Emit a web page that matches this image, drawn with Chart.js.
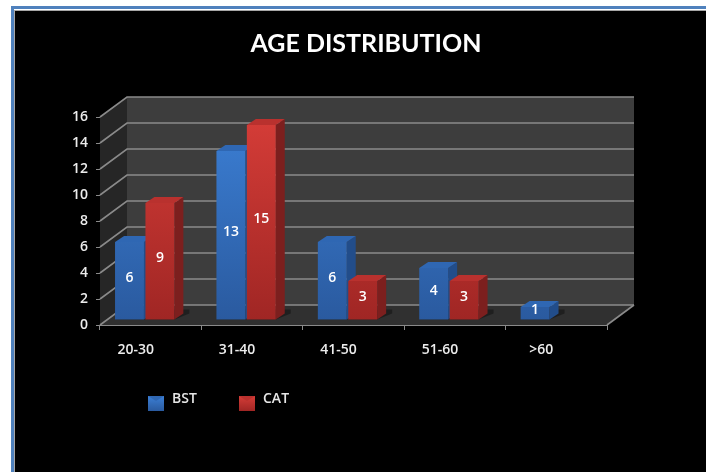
<!DOCTYPE html>
<html>
<head>
<meta charset="utf-8">
<title>Age Distribution</title>
<script src="https://cdn.jsdelivr.net/npm/chart.js@4.4.1/dist/chart.umd.min.js"></script>
<style>
html, body { margin: 0; padding: 0; background: #fff; overflow: hidden; }
#frame { position: absolute; left: 11px; top: 6px; width: 760px; height: 520px; border: 3px solid #4f81bd; }
#inner { position: absolute; left: 0; top: 1px; right: 0; bottom: 0; background: #000;
         border-left: 1px solid #a6a6a6; border-top: 1px solid #a6a6a6; }
#chart { position: absolute; left: 0; top: 0; }
</style>
</head>
<body>
<div id="frame"><div id="inner"></div></div>
<canvas id="chart" width="706" height="472"></canvas>
<script>
// data
const categories = ['20-30', '31-40', '41-50', '51-60', '>60'];
const bstCounts = [6, 13, 6, 4, 1];
const catCounts = [9, 15, 3, 3, null];
const yMax = 16;
const yStep = 2;

// fake 3D: offset of the back wall, depth of each bar, and where the bars sit
const WALL_DX = 27, WALL_DY = -20;
const BAR_DX = 9, BAR_DY = -6;
const SHIFT_X = -6, SHIFT_Y = -5;

const FONT = '"Open Sans", sans-serif';

const palette = [
    { top: '#3c80d6', bottom: '#2a5a9f', side: '#224d8a', cap: '#2f67b3' },  // BST
    { top: '#d63d38', bottom: '#a02624', side: '#7c1f1e', cap: '#b9312e' }   // CAT
];

function frontGradient(i) {
    return function(context) {
        const chart = context.chart;
        const a = chart.chartArea;
        if (!a) return palette[i].top;
        const g = chart.ctx.createLinearGradient(0, a.top, 0, a.bottom);
        g.addColorStop(0, palette[i].top);
        g.addColorStop(1, palette[i].bottom);
        return g;
    };
}

function poly(ctx, pts, fill) {
    ctx.beginPath();
    ctx.moveTo(pts[0][0], pts[0][1]);
    for (let k = 1; k < pts.length; k++) ctx.lineTo(pts[k][0], pts[k][1]);
    ctx.closePath();
    ctx.fillStyle = fill;
    ctx.fill();
}

const pseudo3d = {
    id: 'pseudo3d',
    beforeDatasetsDraw(chart) {
        const ctx = chart.ctx;
        const a = chart.chartArea;
        const y = chart.scales.y;

        ctx.save();
        // floor, left wall, back wall
        poly(ctx, [[a.left, a.bottom], [a.left + WALL_DX, a.bottom + WALL_DY],
                   [a.right + WALL_DX, a.bottom + WALL_DY], [a.right, a.bottom]], '#303030');
        poly(ctx, [[a.left, a.top], [a.left + WALL_DX, a.top + WALL_DY],
                   [a.left + WALL_DX, a.bottom + WALL_DY], [a.left, a.bottom]], '#262626');
        ctx.fillStyle = '#3d3d3d';
        ctx.fillRect(a.left + WALL_DX, a.top + WALL_DY, a.right - a.left, a.bottom - a.top);

        // grid lines on side and back wall
        ctx.strokeStyle = '#8a8a8a';
        ctx.lineWidth = 1.6;
        y.ticks.forEach(t => {
            const py = y.getPixelForValue(t.value);
            ctx.beginPath();
            ctx.moveTo(a.left, py);
            ctx.lineTo(a.left + WALL_DX, py + WALL_DY);
            ctx.lineTo(a.right + WALL_DX, py + WALL_DY);
            ctx.stroke();
        });
        ctx.beginPath();
        ctx.moveTo(a.right, a.bottom);
        ctx.lineTo(a.right + WALL_DX, a.bottom + WALL_DY);
        ctx.stroke();
        ctx.restore();

        // bars are drawn slightly behind the front axis; stays translated until afterDatasetsDraw
        ctx.save();
        ctx.translate(SHIFT_X, SHIFT_Y);

        chart.data.datasets.forEach((ds, i) => {
            const meta = chart.getDatasetMeta(i);
            meta.data.forEach((el, j) => {
                if (ds.data[j] == null) return;
                const x1 = el.x - el.width / 2, x2 = el.x + el.width / 2;
                const top = el.y, base = el.base;
                // soft shadow on the floor
                poly(ctx, [[x2, base], [x2 + BAR_DX + 6, base + BAR_DY], [x2 + BAR_DX + 6, base + BAR_DY - 4],
                           [x1 + BAR_DX, base + BAR_DY - 4], [x1, base]], 'rgba(0,0,0,0.35)');
                poly(ctx, [[x2, top], [x2 + BAR_DX, top + BAR_DY], [x2 + BAR_DX, base + BAR_DY], [x2, base]],
                     palette[i].side);
                poly(ctx, [[x1, top], [x1 + BAR_DX, top + BAR_DY], [x2 + BAR_DX, top + BAR_DY], [x2, top]],
                     palette[i].cap);
            });
        });
    },
    afterDatasetsDraw(chart) {
        const ctx = chart.ctx;
        ctx.font = '600 14px ' + FONT;
        ctx.fillStyle = '#ffffff';
        ctx.textAlign = 'center';
        ctx.textBaseline = 'middle';
        chart.data.datasets.forEach((ds, i) => {
            chart.getDatasetMeta(i).data.forEach((el, j) => {
                const v = ds.data[j];
                if (v == null) return;
                ctx.fillText(String(v), el.x, (el.y + el.base) / 2 - 3);
            });
        });
        ctx.restore();
    },
    afterDraw(chart) {
        const ctx = chart.ctx;
        ctx.save();
        // title
        ctx.font = 'bold 25px Lato, sans-serif';
        ctx.fillStyle = '#ffffff';
        ctx.textAlign = 'center';
        ctx.textBaseline = 'middle';
        ctx.fillText('AGE DISTRIBUTION', 366, 44);

        // legend
        const legendX = [148, 239];
        ctx.font = '600 14px ' + FONT;
        ctx.textAlign = 'left';
        chart.data.datasets.forEach((ds, i) => {
            const lx = legendX[i], ly = 396;
            const g = ctx.createLinearGradient(0, ly, 0, ly + 15);
            g.addColorStop(0, palette[i].top);
            g.addColorStop(1, palette[i].bottom);
            ctx.fillStyle = g;
            ctx.fillRect(lx, ly, 16, 15);
            poly(ctx, [[lx, ly], [lx + 16, ly], [lx + 8, ly + 5]], palette[i].cap);
            ctx.fillStyle = '#e6e6e6';
            ctx.fillText(ds.label, lx + 24, ly + 3);
        });
        ctx.restore();
    }
};

new Chart(document.getElementById('chart'), {
    type: 'bar',
    data: {
        labels: categories,
        datasets: [{
            label: 'BST',
            data: bstCounts,
            backgroundColor: frontGradient(0),
            borderWidth: 0,
            categoryPercentage: 0.6,
            barPercentage: 0.95
        }, {
            label: 'CAT',
            data: catCounts,
            backgroundColor: frontGradient(1),
            borderWidth: 0,
            categoryPercentage: 0.6,
            barPercentage: 0.95
        }]
    },
    options: {
        responsive: false,
        animation: false,
        layout: { padding: { left: 40, right: 99, top: 117, bottom: 117 } },
        plugins: {
            legend: { display: false },
            title: { display: false },
            tooltip: { enabled: false }
        },
        scales: {
            x: {
                afterFit: scale => { scale.height = 30; },
                grid: { drawOnChartArea: false, tickLength: 5, color: '#8a8a8a', offset: true },
                border: { display: true, color: '#8a8a8a', width: 1 },
                ticks: { color: '#ececec', font: { family: FONT, size: 14, weight: '600' }, padding: 12, labelOffset: -15 }
            },
            y: {
                min: 0,
                max: yMax,
                afterFit: scale => { scale.width = 60; },
                grid: { drawOnChartArea: false, tickLength: 4, color: '#8a8a8a' },
                border: { display: true, color: '#8a8a8a', width: 1 },
                ticks: { stepSize: yStep, color: '#ececec', font: { family: FONT, size: 14, weight: '600' }, padding: 8 }
            }
        }
    },
    plugins: [pseudo3d]
});
</script>
</body>
</html>
